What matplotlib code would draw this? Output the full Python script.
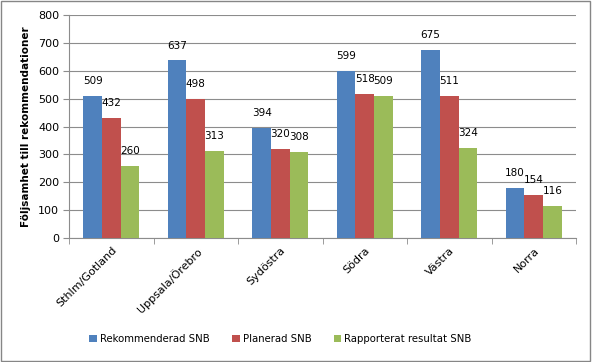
import matplotlib
matplotlib.use("Agg")
import matplotlib.pyplot as plt
import numpy as np

regions = ["Sthlm/Gotland", "Uppsala/Örebro", "Sydöstra", "Södra", "Västra", "Norra"]
rekommenderad = [509, 637, 394, 599, 675, 180]
planerad = [432, 498, 320, 518, 511, 154]
rapporterat = [260, 313, 308, 509, 324, 116]

series = [
    ("Rekommenderad SNB", rekommenderad, "#4f81bd"),
    ("Planerad SNB", planerad, "#c0504d"),
    ("Rapporterat resultat SNB", rapporterat, "#9bbb59"),
]

plt.rcParams["font.family"] = ["DejaVu Sans"]

fig = plt.figure(figsize=(5.92, 3.62), dpi=100)
ax = fig.add_axes([0.1166, 0.3425, 0.8564, 0.6161])

x = np.arange(len(regions))
w = 0.22
for i, (name, vals, col) in enumerate(series):
    pos = x + (i - 1) * w
    bars = ax.bar(pos, vals, width=w, color=col, label=name, zorder=3)
    for b, v in zip(bars, vals):
        ax.annotate(str(v), (b.get_x() + b.get_width() / 2, v), xytext=(0, 7),
                    textcoords="offset points", ha="center", va="bottom", fontsize=7.5)

ax.set_xlim(-0.5, len(regions) - 0.5)
ax.set_ylim(0, 800)
ax.set_yticks(range(0, 801, 100))
ax.yaxis.grid(True, color="#8c8c8c", linewidth=0.8, zorder=0)
ax.tick_params(axis="y", labelsize=8, length=4, color="#8c8c8c", pad=3)
ax.set_xticks(x)
ax.set_xticklabels(regions, rotation=45, ha="right", rotation_mode="anchor", fontsize=8)
ax.tick_params(axis="x", length=0, pad=5)
ax.set_xticks(np.arange(-0.5, len(regions)), minor=True)
ax.tick_params(axis="x", which="minor", length=4, color="#8c8c8c")
for s in ["top", "right"]:
    ax.spines[s].set_visible(False)
ax.spines["left"].set_color("#8c8c8c")
ax.spines["bottom"].set_color("#8c8c8c")

ax.set_ylabel("Följsamhet till rekommendationer", fontsize=7.5, fontweight="bold", labelpad=5)

fig.legend(loc="center", bbox_to_anchor=(0.474, 0.064), ncol=3, frameon=False, fontsize=7.3,
           handlelength=0.75, handleheight=0.75, columnspacing=2.2, handletextpad=0.3)

fig.patches.append(plt.Rectangle((0.002, 0.003), 0.995, 0.994, transform=fig.transFigure,
                                 fill=False, edgecolor="#868686", linewidth=1))

fig.savefig("out.png", dpi=100)
